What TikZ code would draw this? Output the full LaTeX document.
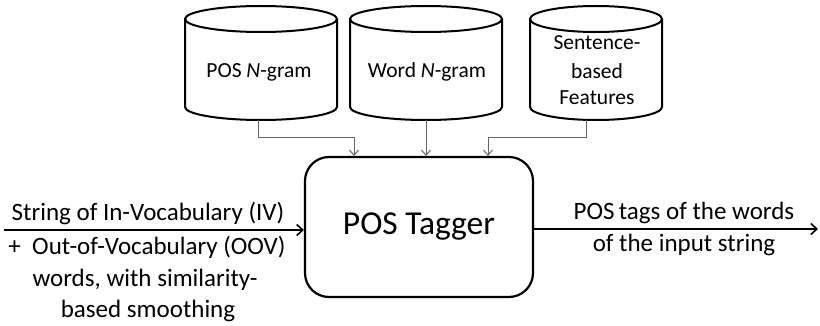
\documentclass[tikz,border=0pt]{standalone}
\usepackage{fontspec}
\setmainfont{Carlito}
\usetikzlibrary{arrows.meta,calc}
\begin{document}
\begin{tikzpicture}[x=1pt,y=1pt,
  cyl/.style={line width=2pt},
  cylbox/.style={minimum width=152pt,minimum height=115pt,inner sep=0pt},
  feed/.style={draw=black!60,line width=1pt,-{Straight Barb[length=5pt,width=9pt]}},
  flow/.style={draw=black,line width=1.6pt,-{Straight Barb[length=6pt,width=11pt,line width=1.6pt]}},
  lbl/.style={font=\fontsize{21.5}{25}\selectfont,inner sep=0pt,align=center},
  io/.style={font=\fontsize{25}{29}\selectfont,inner sep=0pt,anchor=center}]
\useasboundingbox (0,0) rectangle (820,-326);
% cylinders
\foreach \L/\R in {185/337,350/502,530/662}{
  \pgfmathsetmacro{\cx}{(\L+\R)/2}
  \pgfmathsetmacro{\rx}{(\R-\L)/2}
  \draw[cyl,fill=white] (\L,-19) -- (\L,-107) arc[start angle=180,end angle=360,x radius=\rx,y radius=13] -- (\R,-19);
  \draw[cyl] (\cx,-19) ellipse[x radius=\rx,y radius=13];
}
\node[cylbox] (c1) at (258,-62.5) {};
\node[cylbox] (c2) at (426,-62.5) {};
\node[cylbox,minimum width=132pt] (c3) at (586,-62.5) {};
\node[lbl] (t1) at (259,-72) {POS \textit{N}-gram};
\node[lbl] (t2) at (427,-72) {Word \textit{N}-gram};
\node[lbl] (t3a) at (597,-43) {Sentence-};
\node[lbl] (t3b) at (597,-71) {based};
\node[lbl] (t3c) at (597,-98) {Features};
% tagger
\node[draw,line width=2.2pt,rounded corners=24pt,minimum width=228pt,minimum height=140pt,
  font=\fontsize{33.5}{37}\selectfont] (tag) at (419,-227) {POS Tagger};
% feeds
\draw[feed] (c1.south) -- ++(0,-17) -| ([xshift=-65pt]tag.north);
\draw[feed] (c2.south) -- (c2.south |- tag.north);
\draw[feed] (c3.south) -- ++(0,-17) -| ([xshift=69pt]tag.north);
% in/out
\coordinate (inL) at (4,-230);
\coordinate (outR) at (818,-229);
\draw[flow] (inL) -- (inL -| tag.west);
\draw[flow] (tag.east |- outR) -- (outR);
\node[io] (i1) at (148,-214) {String of In-Vocabulary (IV)};
\node[io] (i2) at (147,-247) {+\ \ Out-of-Vocabulary (OOV)};
\node[io] (i3) at (145,-280) {words, with similarity-};
\node[io] (i4) at (148,-311) {based smoothing};
\node[io] (o1) at (684,-213) {POS\,tags of the words};
\node[io] (o2) at (684,-245) {of the input string};
\end{tikzpicture}
\end{document}
